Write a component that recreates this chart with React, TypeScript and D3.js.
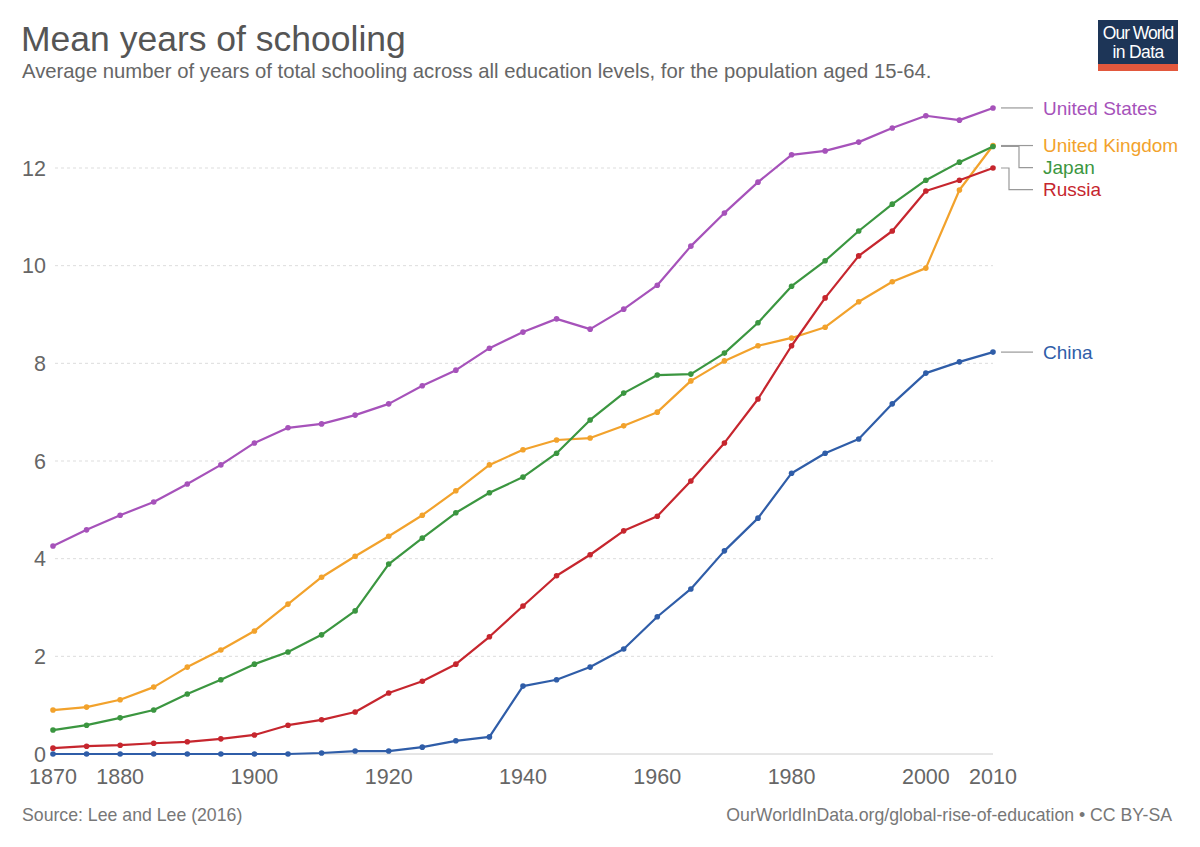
import React from "react";
import * as d3 from "d3";

const years = [1870,1875,1880,1885,1890,1895,1900,1905,1910,1915,1920,1925,1930,1935,1940,1945,1950,1955,1960,1965,1970,1975,1980,1985,1990,1995,2000,2005,2010];

const unitedStates = [4.26,4.59,4.89,5.16,5.53,5.92,6.37,6.68,6.76,6.94,7.17,7.54,7.86,8.31,8.64,8.91,8.70,9.11,9.60,10.40,11.08,11.71,12.27,12.35,12.53,12.82,13.07,12.98,13.23];
const unitedKingdom = [0.90,0.96,1.11,1.37,1.78,2.13,2.52,3.07,3.62,4.05,4.46,4.89,5.39,5.92,6.23,6.43,6.47,6.72,7.00,7.64,8.05,8.36,8.52,8.74,9.26,9.67,9.95,11.55,12.46];
const japan = [0.49,0.59,0.74,0.90,1.23,1.52,1.84,2.09,2.44,2.93,3.89,4.42,4.94,5.35,5.67,6.16,6.84,7.39,7.76,7.78,8.21,8.83,9.58,10.10,10.71,11.26,11.75,12.12,12.44];
const russia = [0.12,0.16,0.18,0.22,0.25,0.31,0.39,0.59,0.70,0.86,1.25,1.49,1.84,2.40,3.03,3.65,4.08,4.57,4.87,5.59,6.37,7.27,8.36,9.34,10.20,10.71,11.53,11.75,12.00];
const china = [0.00,0.00,0.00,0.00,0.00,0.00,0.00,0.00,0.02,0.06,0.06,0.14,0.27,0.35,1.39,1.52,1.78,2.15,2.81,3.38,4.16,4.83,5.75,6.16,6.45,7.17,7.80,8.03,8.23];

const seriesNames = ["United States", "United Kingdom", "Japan", "Russia", "China"];
const seriesValues = [unitedStates, unitedKingdom, japan, russia, china];
const seriesColors = ["#a652ba", "#f2a22c", "#3b9640", "#c6262e", "#2f5da8"];

const yTicks = [0, 2, 4, 6, 8, 10, 12];
const xTicks = [1870, 1880, 1900, 1920, 1940, 1960, 1980, 2000, 2010];

const FONT = "'Liberation Sans', Arial, Helvetica, sans-serif";

export default function App() {
  const W = 1200, H = 847;
  const x = d3.scaleLinear().domain([1870, 2010]).range([53, 993]);
  const y = d3.scaleLinear().domain([0, 12]).range([754, 168]);

  const line = d3.line<number>()
    .x((_, i) => x(years[i]))
    .y((v) => y(v));

  // label placement
  const labelGap = 22;
  const order = seriesNames.map((n, i) => i).sort((a, b) => {
    const va = seriesValues[a][seriesValues[a].length - 1];
    const vb = seriesValues[b][seriesValues[b].length - 1];
    return vb - va;
  });
  const labelY: number[] = [];
  let prev = -Infinity;
  order.forEach((i) => {
    const vy = y(seriesValues[i][seriesValues[i].length - 1]);
    const ly = Math.max(vy, prev + labelGap);
    labelY[i] = ly;
    prev = ly;
  });
  const endX = x(2010);
  let displacedCount = 0;
  const leaders = order.map((i) => {
    const vy = y(seriesValues[i][seriesValues[i].length - 1]);
    const ly = labelY[i];
    const x0 = endX + 8, x1 = endX + 40;
    if (Math.abs(ly - vy) < 3) {
      return { i, d: `M${x0},${vy}H${x1}`, ly };
    }
    const mx = endX + 26 - 10 * displacedCount;
    displacedCount++;
    return { i, d: `M${x0},${vy}H${mx}V${ly}H${x1}`, ly };
  });

  return (
    <svg width={W} height={H} viewBox={`0 0 ${W} ${H}`}
      style={{ position: "absolute", left: 0, top: 0, background: "#fff" }}
      fontFamily={FONT}>
      <rect x={0} y={0} width={W} height={H} fill="#fff" />
      <text x={21} y={51} fontSize={35.5} fill="#555">Mean years of schooling</text>
      <text x={22} y={78} fontSize={20.3} fill="#666">Average number of years of total schooling across all education levels, for the population aged 15-64.</text>

      {/* logo */}
      <g>
        <rect x={1098} y={20} width={80} height={51} fill="#1d3557" />
        <rect x={1098} y={64} width={80} height={7} fill="#e2583d" />
        <text x={1138} y={39} fontSize={17.5} fill="#fff" textAnchor="middle" letterSpacing={-1}>Our World</text>
        <text x={1138} y={58} fontSize={17.5} fill="#fff" textAnchor="middle" letterSpacing={-0.6}>in Data</text>
      </g>

      {/* grid */}
      {yTicks.map((t) => (
        <g key={t}>
          {t > 0 ? (
            <line x1={55} x2={993} y1={y(t)} y2={y(t)} stroke="#ddd" strokeDasharray="3,3" />
          ) : (
            <line x1={50} x2={993} y1={y(t)} y2={y(t)} stroke="#ccc" />
          )}
          <text x={46} y={y(t)} dy="0.35em" textAnchor="end" fontSize={21.5} fill="#666">{t}</text>
        </g>
      ))}
      {xTicks.map((t) => (
        <text key={t} x={x(t)} y={784} textAnchor="middle" fontSize={21.5} fill="#666">{t}</text>
      ))}

      {/* lines */}
      {seriesValues.map((vals, si) => (
        <g key={seriesNames[si]}>
          <path d={line(vals) || ""} fill="none" stroke={seriesColors[si]} strokeWidth={2.2} strokeLinejoin="round" />
          {vals.map((v, i) => (
            <circle key={i} cx={x(years[i])} cy={y(v)} r={2.8} fill={seriesColors[si]} />
          ))}
        </g>
      ))}

      {/* labels */}
      {leaders.map(({ i, d, ly }) => (
        <g key={seriesNames[i]}>
          <path d={d} fill="none" stroke="#999" strokeWidth={1.2} />
          <text x={endX + 50} y={ly} dy="0.35em" fontSize={19} fill={seriesColors[i]}>{seriesNames[i]}</text>
        </g>
      ))}

      {/* footer */}
      <text x={22} y={821} fontSize={17.7} fill="#777">Source: Lee and Lee (2016)</text>
      <text x={1172} y={821} fontSize={17.7} fill="#777" textAnchor="end">OurWorldInData.org/global-rise-of-education • CC BY-SA</text>
    </svg>
  );
}
